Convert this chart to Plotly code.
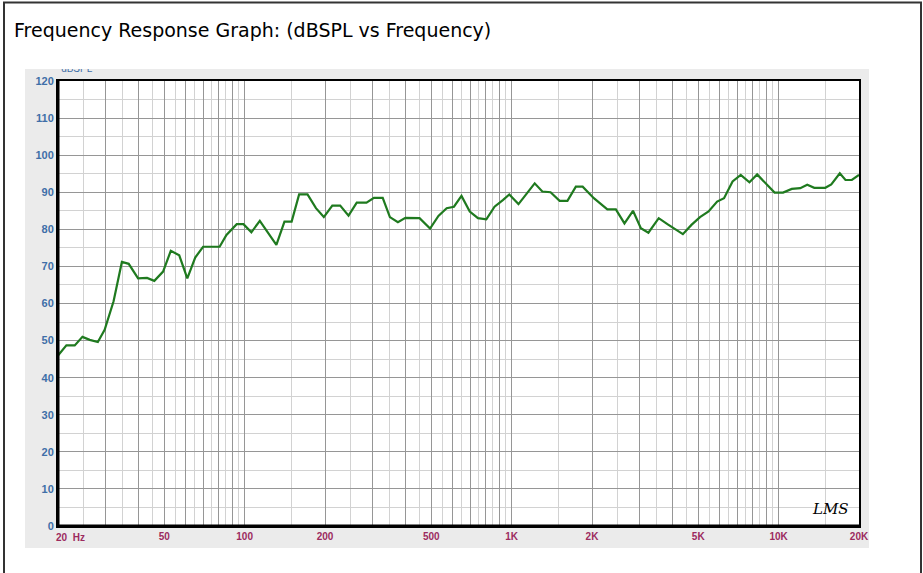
import plotly.graph_objects as go

# ---- data ----
freq_hz = [20, 21.5, 23.1, 24.7, 26.3, 28.2, 29.9, 32.3, 34.7, 36.8, 39.9, 43.1, 45.9, 49.5,
           52.9, 56.9, 61.0, 65.3, 69.9, 80.6, 85.5, 93.4, 99.0, 106, 114, 131.5, 141, 150,
           160, 172, 185, 198, 213, 228, 245, 263, 286, 305, 329, 350, 375, 400, 452, 495,
           532, 571, 608, 649, 697, 748, 804, 863, 927, 980, 1061, 1137, 1220, 1303, 1399,
           1513, 1618, 1740, 1845, 2032, 2283, 2457, 2646, 2848, 3048, 3253, 3556, 3832,
           4379, 4715, 5076, 5465, 5884, 6245, 6723, 7213, 7775, 8310, 8957, 9656, 10390,
           11200, 12050, 12800, 13600, 14950, 15750, 16950, 17800, 18800, 20000]
spl_db = [46.0, 48.7, 48.7, 51.0, 50.2, 49.6, 52.9, 60.6, 71.2, 70.7, 66.8, 66.9, 66.1, 68.6,
          74.2, 73.0, 66.8, 72.4, 75.3, 75.3, 78.5, 81.4, 81.4, 79.2, 82.3, 75.8, 82.1, 82.1,
          89.4, 89.4, 85.7, 83.3, 86.4, 86.4, 83.7, 87.2, 87.2, 88.5, 88.5, 83.3, 81.9, 83.1,
          83.0, 80.2, 83.6, 85.7, 86.1, 89.0, 84.8, 83.0, 82.7, 86.1, 87.9, 89.4, 86.8, 89.7,
          92.4, 90.2, 90.0, 87.7, 87.7, 91.5, 91.5, 88.4, 85.4, 85.4, 81.6, 85.0, 80.3, 79.1,
          83.0, 81.4, 78.7, 81.2, 83.3, 84.8, 87.5, 88.4, 92.9, 94.7, 92.7, 94.8, 92.4, 89.9,
          89.9, 90.9, 91.1, 92.0, 91.2, 91.2, 92.1, 95.1, 93.3, 93.3, 94.7]

x_label_vals = [50, 100, 200, 500, 1000, 2000, 5000, 10000, 20000]
x_label_text = ["50", "100", "200", "500", "1K", "2K", "5K", "10K", "20K"]
x_dark_grid = ([20] + list(range(30, 101, 10)) + list(range(200, 1001, 100))
               + list(range(2000, 10001, 1000)) + [20000])
x_light_grid = (list(range(25, 100, 10)) + list(range(150, 1000, 100))
                + list(range(1500, 10000, 1000)) + [15000])
y_major = list(range(0, 121, 10))
y_minor = list(range(5, 120, 10))

title_text = "Frequency Response Graph: (dBSPL vs Frequency)"
y_unit_text = "dBSPL"
first_label = "20  Hz"
logo_text = "LMS"

# ---- geometry (pixels in a 923x573 page) ----
W, H = 923, 573
PL, PR, PB = 58, 859, 526      # plot area left/right/bottom
PT = 81                        # plot area top
MT = 60                        # figure margin top (room for the clipped unit label strip)
GRAY_TOP = 69
pw, ph = PR - PL, PB - MT


def px(x):
    return (x - PL) / pw


def py(y):
    return (PB - y) / ph


tick_text = [x_label_text[x_label_vals.index(v)] if v in x_label_vals else "" for v in x_dark_grid]

fig = go.Figure()
fig.add_trace(go.Scatter(x=freq_hz, y=spl_db, mode="lines",
                         line=dict(color="#1f7a1f", width=2.2), hoverinfo="skip",
                         showlegend=False))
# unit label, clipped at the top of the gray panel by its own (hidden) subplot
fig.add_trace(go.Scatter(x=[0.0], y=[1.0], mode="text", text=[y_unit_text],
                         textposition="middle right", cliponaxis=True,
                         xaxis="x2", yaxis="y2",
                         textfont=dict(family="Liberation Sans", size=10, color="#3f6fa8"),
                         hoverinfo="skip", showlegend=False))

fig.update_layout(
    width=W, height=H,
    margin=dict(l=PL, r=W - PR, t=MT, b=H - PB, pad=0),
    paper_bgcolor="white", plot_bgcolor="rgba(0,0,0,0)",
    showlegend=False,
    xaxis=dict(type="log", range=[1.30103, 4.30103], domain=[0, 1], anchor="y",
               tickmode="array", tickvals=x_dark_grid, ticktext=tick_text,
               ticks="", showgrid=True, gridcolor="#969696", gridwidth=1,
               minor=dict(tickmode="array", tickvals=x_light_grid, showgrid=True,
                          gridcolor="#d2d2d2", gridwidth=1, ticks=""),
               showline=True, linecolor="black", linewidth=2, mirror=True,
               tickfont=dict(family="Liberation Sans", size=10, color="#9c2a5e",
                             weight="bold"),
               zeroline=False, fixedrange=True),
    yaxis=dict(range=[0, 120], domain=[0, py(PT)], anchor="x",
               tickmode="array", tickvals=y_major,
               ticks="", showgrid=True, gridcolor="#969696", gridwidth=1,
               minor=dict(tickmode="array", tickvals=y_minor, showgrid=True,
                          gridcolor="#d2d2d2", gridwidth=1, ticks=""),
               showline=True, linecolor="black", linewidth=2, mirror=True,
               tickfont=dict(family="Liberation Sans", size=11, color="#3f6fa8",
                             weight="bold"),
               zeroline=False, fixedrange=True),
    xaxis2=dict(domain=[0, 0.2], range=[-0.02, 1], anchor="y2", visible=False,
                fixedrange=True),
    yaxis2=dict(domain=[py(PT - 2), py(GRAY_TOP)], range=[0, 1], anchor="x2",
                visible=False, fixedrange=True),
    shapes=[
        # light gray chart panel
        dict(type="rect", xref="paper", yref="paper", layer="below",
             x0=px(25), x1=px(869), y0=py(548), y1=py(GRAY_TOP),
             fillcolor="#ebebeb", line=dict(width=0)),
        # white plotting area
        dict(type="rect", xref="x domain", yref="y domain", layer="below",
             x0=0, x1=1, y0=0, y1=1, fillcolor="white", line=dict(width=0)),
        # outer frame
        dict(type="rect", xref="paper", yref="paper", layer="above",
             x0=px(4), x1=px(921), y0=py(580), y1=py(2.5),
             fillcolor="rgba(0,0,0,0)", line=dict(color="#333333", width=2)),
        # thicker left and bottom axis lines
        dict(type="line", xref="x domain", yref="y domain", layer="above",
             x0=0, x1=0, y0=0, y1=1, line=dict(color="black", width=3)),
        dict(type="line", xref="x domain", yref="y domain", layer="above",
             x0=0, x1=1, y0=0, y1=0, line=dict(color="black", width=3)),
    ],
    annotations=[
        dict(text=title_text, xref="paper", yref="paper", x=px(12), y=py(30),
             xanchor="left", yanchor="middle", showarrow=False,
             font=dict(family="DejaVu Sans", size=19, color="black")),
        dict(text="<b>" + first_label + "</b>", xref="paper", yref="paper", x=px(54),
             y=py(537), xanchor="left", yanchor="middle", showarrow=False,
             font=dict(family="Liberation Sans", size=10, color="#9c2a5e")),
        dict(text="<i>" + logo_text + "</i>", xref="paper", yref="paper", x=px(830),
             y=py(509), xanchor="center", yanchor="middle", showarrow=False,
             font=dict(family="DejaVu Serif", size=15, color="black")),
    ],
)

fig.write_html("out.html", config={"displayModeBar": False, "staticPlot": True},
               post_script="document.body.style.margin='0';"
               "document.body.style.overflow='hidden';")
